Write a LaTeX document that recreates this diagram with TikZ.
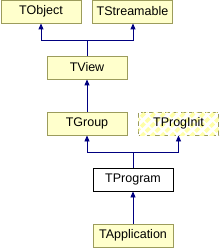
\documentclass[tikz,border=0pt]{standalone}
\usepackage{fontspec}
\setmainfont{Liberation Sans}
\usetikzlibrary{positioning,arrows.meta,patterns.meta}

\definecolor{clsfill}{HTML}{FFFFCC}
\definecolor{clsdraw}{HTML}{9C9C5C}
\definecolor{edgeblue}{HTML}{000080}
\definecolor{hatch}{HTML}{FFFFA8}

\begin{document}
\begin{tikzpicture}[
    x=1pt, y=-1pt,
    font=\fontsize{12.5}{14}\selectfont,
    cls/.style    ={draw=clsdraw, fill=clsfill, line width=0.9pt,
                    minimum width=80pt, minimum height=23pt, inner sep=0pt},
    cur/.style    ={cls, draw=black, fill=white},
    undoc/.style  ={cls, dash pattern=on 5pt off 3pt, fill=white,
                    postaction={pattern={Lines[angle=45,distance=7pt,line width=3.5pt]},
                    pattern color=hatch}},
    flow/.style   ={-{Triangle[length=6pt,width=5pt]}, edgeblue, line width=0.9pt},
]
\useasboundingbox (0,0) rectangle (220,248);

% classes
\node[cls]   (tobject)  at (41,11.5)    {TObject};
\node[cls]   (tstream)  at (132.5,11.5) {TStreamable};
\node[cls]   (tview)    at (87,67.5)    {TView};
\node[cls]   (tgroup)   at (87,123.5)   {TGroup};
\node[undoc] (tproginit) at (178.5,123.5) {};
\node        (tproglbl) at (tproginit)  {TProgInit};
\node[cur]   (tprogram) at (133,179.5)  {TProgram};
\node[cls]   (tapp)     at (133,235.5)  {TApplication};

% join points
\coordinate (j1) at (tview.north |- 0,40);
\coordinate (j2) at (tprogram.north |- 0,152);

% inheritance
\draw[flow] (tview.north) -- (j1) -| (tobject.south);
\draw[flow] (j1) -| ([xshift=0.5pt]tstream.south);
\draw[flow] (tgroup.north) -- (tview.south);
\draw[flow] (tprogram.north) -- (j2) -| (tgroup.south);
\draw[flow] (j2) -| (tproginit.south);
\draw[flow] (tapp.north) -- (tprogram.south);

\end{tikzpicture}
\end{document}
